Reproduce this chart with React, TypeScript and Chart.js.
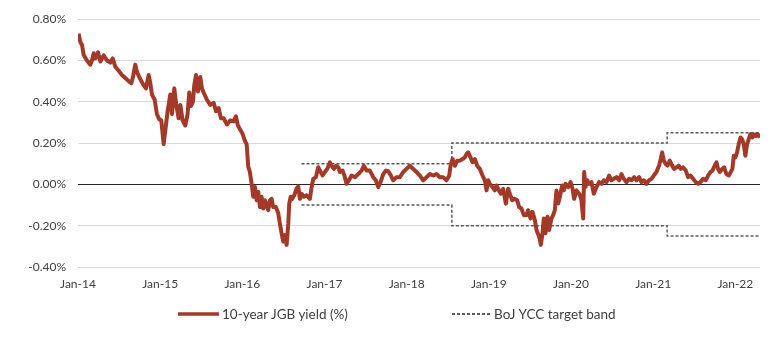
import React, { useEffect, useRef } from 'react';
import { Chart, registerables } from 'chart.js';

Chart.register(...registerables);

// ---- Data ----
const seriesNames = ['10-year JGB yield (%)', 'BoJ YCC target band'];

// decimal-year dates and 10-year JGB yield (%)
const jgbDates = [
  2014.008, 2014.028, 2014.049, 2014.069, 2014.109, 2014.150, 2014.170, 2014.191, 2014.211, 2014.243,
  2014.272, 2014.312, 2014.353, 2014.393, 2014.422, 2014.454, 2014.495, 2014.535, 2014.576, 2014.616,
  2014.649, 2014.669, 2014.697, 2014.722, 2014.758, 2014.799, 2014.827, 2014.860, 2014.880, 2014.900,
  2014.933, 2014.961, 2014.989, 2015.014, 2015.042, 2015.062, 2015.091, 2015.123, 2015.144, 2015.172,
  2015.196, 2015.225, 2015.245, 2015.273, 2015.306, 2015.334, 2015.354, 2015.375, 2015.399, 2015.415,
  2015.436, 2015.460, 2015.488, 2015.509, 2015.529, 2015.569, 2015.610, 2015.651, 2015.679, 2015.711,
  2015.740, 2015.772, 2015.813, 2015.853, 2015.894, 2015.922, 2015.946, 2015.975, 2016.003, 2016.032,
  2016.052, 2016.072, 2016.092, 2016.113, 2016.133, 2016.153, 2016.174, 2016.194, 2016.214, 2016.234,
  2016.255, 2016.275, 2016.295, 2016.315, 2016.336, 2016.356, 2016.376, 2016.409, 2016.437, 2016.457,
  2016.478, 2016.498, 2016.518, 2016.539, 2016.559, 2016.571, 2016.588, 2016.608, 2016.632, 2016.660,
  2016.680, 2016.701, 2016.721, 2016.749, 2016.782, 2016.822, 2016.843, 2016.863, 2016.895, 2016.924,
  2016.944, 2016.977, 2017.005, 2017.033, 2017.066, 2017.086, 2017.114, 2017.139, 2017.167, 2017.187,
  2017.220, 2017.248, 2017.268, 2017.297, 2017.329, 2017.370, 2017.410, 2017.451, 2017.479, 2017.512,
  2017.552, 2017.593, 2017.625, 2017.654, 2017.682, 2017.715, 2017.747, 2017.775, 2017.808, 2017.836,
  2017.877, 2017.917, 2017.958, 2017.998, 2018.039, 2018.080, 2018.120, 2018.161, 2018.201, 2018.242,
  2018.282, 2018.323, 2018.363, 2018.404, 2018.444, 2018.485, 2018.518, 2018.534, 2018.558, 2018.586,
  2018.615, 2018.647, 2018.680, 2018.708, 2018.728, 2018.749, 2018.777, 2018.801, 2018.830, 2018.858,
  2018.891, 2018.923, 2018.951, 2018.972, 2018.992, 2019.012, 2019.045, 2019.073, 2019.093, 2019.122,
  2019.146, 2019.174, 2019.207, 2019.235, 2019.255, 2019.284, 2019.316, 2019.345, 2019.369, 2019.397,
  2019.426, 2019.458, 2019.478, 2019.507, 2019.531, 2019.560, 2019.580, 2019.612, 2019.633, 2019.653,
  2019.669, 2019.689, 2019.714, 2019.734, 2019.762, 2019.783, 2019.803, 2019.823, 2019.844, 2019.864,
  2019.892, 2019.912, 2019.933, 2019.965, 2019.994, 2020.018, 2020.038, 2020.067, 2020.107, 2020.127,
  2020.148, 2020.160, 2020.176, 2020.196, 2020.221, 2020.249, 2020.277, 2020.310, 2020.342, 2020.371,
  2020.399, 2020.431, 2020.464, 2020.492, 2020.521, 2020.553, 2020.586, 2020.614, 2020.642, 2020.675,
  2020.707, 2020.736, 2020.768, 2020.796, 2020.829, 2020.857, 2020.886, 2020.918, 2020.951, 2020.979,
  2021.007, 2021.040, 2021.072, 2021.092, 2021.109, 2021.129, 2021.153, 2021.174, 2021.202, 2021.231,
  2021.255, 2021.283, 2021.311, 2021.336, 2021.364, 2021.397, 2021.425, 2021.454, 2021.486, 2021.518,
  2021.547, 2021.575, 2021.608, 2021.640, 2021.668, 2021.697, 2021.721, 2021.749, 2021.770, 2021.790,
  2021.810, 2021.839, 2021.863, 2021.891, 2021.920, 2021.944, 2021.964, 2021.981, 2022.001, 2022.021,
  2022.041, 2022.062, 2022.082, 2022.102, 2022.122, 2022.143, 2022.163, 2022.183, 2022.207, 2022.224,
  2022.248, 2022.273, 2022.297,
];

const jgbYield = [
  0.73, 0.69, 0.675, 0.627, 0.60, 0.58, 0.60, 0.635, 0.61, 0.64,
  0.595, 0.625, 0.60, 0.59, 0.61, 0.57, 0.55, 0.53, 0.515, 0.50,
  0.49, 0.52, 0.58, 0.54, 0.51, 0.48, 0.465, 0.53, 0.49, 0.435,
  0.41, 0.34, 0.315, 0.31, 0.195, 0.26, 0.355, 0.435, 0.34, 0.465,
  0.385, 0.32, 0.385, 0.31, 0.285, 0.34, 0.445, 0.38, 0.40, 0.48,
  0.53, 0.45, 0.52, 0.465, 0.445, 0.41, 0.385, 0.395, 0.355, 0.37,
  0.32, 0.32, 0.29, 0.31, 0.305, 0.33, 0.285, 0.265, 0.245, 0.21,
  0.195, 0.085, 0.06, 0.003, -0.06, -0.013, -0.077, -0.037, -0.11, -0.06,
  -0.117, -0.077, -0.10, -0.125, -0.077, -0.07, -0.11, -0.11, -0.14, -0.19,
  -0.237, -0.277, -0.245, -0.293, -0.19, -0.093, -0.06, -0.07, -0.053, -0.02,
  -0.01, -0.07, -0.045, -0.06, -0.053, -0.07, -0.013, 0.027, 0.035, 0.083,
  0.067, 0.043, 0.06, 0.075, 0.107, 0.09, 0.075, 0.09, 0.083, 0.06,
  0.067, 0.035, 0.003, 0.02, 0.043, 0.035, 0.05, 0.067, 0.09, 0.067,
  0.067, 0.035, 0.02, -0.013, 0.011, 0.05, 0.067, 0.064, 0.043, 0.02,
  0.035, 0.035, 0.06, 0.075, 0.09, 0.075, 0.06, 0.043, 0.02, 0.035,
  0.05, 0.043, 0.05, 0.035, 0.035, 0.02, 0.043, 0.09, 0.123, 0.09,
  0.115, 0.115, 0.123, 0.131, 0.147, 0.155, 0.131, 0.107, 0.123, 0.09,
  0.075, 0.043, 0.02, -0.029, 0.02, 0.003, -0.013, -0.029, -0.005, -0.029,
  -0.045, -0.021, -0.093, -0.021, -0.045, -0.077, -0.07, -0.077, -0.11, -0.117,
  -0.149, -0.149, -0.125, -0.165, -0.133, -0.173, -0.221, -0.253, -0.293, -0.237,
  -0.165, -0.237, -0.157, -0.221, -0.165, -0.149, -0.125, -0.029, -0.093, -0.061,
  -0.005, -0.029, 0.003, -0.013, 0.011, -0.021, -0.07, -0.029, -0.05, -0.077,
  -0.165, 0.06, -0.013, 0.02, 0.003, 0.011, -0.045, -0.013, 0.011, 0.003,
  0.02, 0.011, 0.043, 0.02, 0.027, 0.035, 0.02, 0.05, 0.027, 0.011,
  0.027, 0.02, 0.035, 0.02, 0.035, 0.011, 0.02, 0.003, 0.02, 0.027,
  0.043, 0.06, 0.091, 0.123, 0.155, 0.115, 0.099, 0.091, 0.115, 0.091,
  0.075, 0.083, 0.091, 0.075, 0.083, 0.067, 0.035, 0.043, 0.027, 0.011,
  0.003, 0.011, 0.027, 0.02, 0.043, 0.06, 0.067, 0.091, 0.107, 0.075,
  0.06, 0.075, 0.083, 0.05, 0.043, 0.06, 0.075, 0.139, 0.131, 0.155,
  0.195, 0.227, 0.219, 0.195, 0.139, 0.195, 0.219, 0.243, 0.227, 0.243,
  0.235, 0.243, 0.227,
];

// BoJ yield curve control target band (step changes)
const bandDates = [2016.72, 2018.55, 2018.55, 2021.17, 2021.17, 2022.29];
const bandUpper = [0.1, 0.1, 0.2, 0.2, 0.25, 0.25];
const bandLower = [-0.1, -0.1, -0.2, -0.2, -0.25, -0.25];

// axis ticks
const xTickValues = [2014, 2015, 2016, 2017, 2018, 2019, 2020, 2021, 2022];
const xTickLabels = ['Jan-14', 'Jan-15', 'Jan-16', 'Jan-17', 'Jan-18', 'Jan-19', 'Jan-20', 'Jan-21', 'Jan-22'];
const yTickValues = [-0.4, -0.2, 0, 0.2, 0.4, 0.6, 0.8];

const RED = '#A33A29';
const DASH_GREY = '#5a5a5a';
const TEXT = '#404040';
const FONT = 'Lato, "Noto Sans", sans-serif';

export default function App() {
  const canvasRef = useRef<HTMLCanvasElement | null>(null);

  useEffect(() => {
    document.body.style.margin = '0';
    const canvas = canvasRef.current;
    if (!canvas) return;

    const yieldData = jgbDates.map((d, i) => ({ x: d, y: jgbYield[i] }));
    const upperData = bandDates.map((d, i) => ({ x: d, y: bandUpper[i] }));
    const lowerData = bandDates.map((d, i) => ({ x: d, y: bandLower[i] }));

    const chart = new Chart(canvas, {
      type: 'line',
      data: {
        datasets: [
          {
            label: seriesNames[0],
            data: yieldData,
            borderColor: RED,
            backgroundColor: RED,
            borderWidth: 4,
            pointRadius: 0,
            tension: 0,
            borderJoinStyle: 'round',
          },
          {
            label: seriesNames[1],
            data: upperData,
            borderColor: DASH_GREY,
            borderWidth: 1.5,
            borderDash: [3, 2],
            pointRadius: 0,
            tension: 0,
          },
          {
            label: seriesNames[1] + ' (lower)',
            data: lowerData,
            borderColor: DASH_GREY,
            borderWidth: 1.5,
            borderDash: [3, 2],
            pointRadius: 0,
            tension: 0,
          },
        ],
      },
      options: {
        animation: false,
        responsive: false,
        devicePixelRatio: 1,
        layout: { padding: { top: 18, right: 20, left: 0, bottom: 57 } },
        plugins: {
          legend: { display: false },
          tooltip: { enabled: false },
        },
        scales: {
          x: {
            type: 'linear',
            min: 2014,
            max: 2022.3,
            afterBuildTicks: (scale: any) => {
              scale.ticks = xTickValues.map((v) => ({ value: v }));
            },
            afterFit: (scale: any) => {
              scale.height = 23;
            },
            ticks: {
              autoSkip: false,
              maxRotation: 0,
              padding: 10,
              color: TEXT,
              font: { family: FONT, size: 12 },
              callback: (v: any) => {
                const idx = xTickValues.indexOf(Number(v));
                return idx >= 0 ? xTickLabels[idx] : '';
              },
            },
            grid: { display: false, drawTicks: false },
            border: { display: false },
          },
          y: {
            min: -0.4,
            max: 0.8,
            afterBuildTicks: (scale: any) => {
              scale.ticks = yTickValues.map((v) => ({ value: v }));
            },
            afterFit: (scale: any) => {
              scale.width = 78;
            },
            ticks: {
              padding: 12,
              color: TEXT,
              font: { family: FONT, size: 12 },
              callback: (v: any) => Number(v).toFixed(2) + '%',
            },
            grid: {
              drawTicks: false,
              color: (ctx: any) =>
                ctx.tick && Math.abs(ctx.tick.value) < 1e-9 ? '#262626' : '#d9d9d9',
              lineWidth: 1,
            },
            border: { display: false },
          },
        },
      },
    } as any);

    return () => chart.destroy();
  }, []);

  const legendText: React.CSSProperties = {
    fontFamily: FONT,
    fontSize: 13.5,
    color: TEXT,
    lineHeight: '16px',
    whiteSpace: 'nowrap',
  };

  return (
    <div style={{ position: 'relative', width: 780, height: 347 }}>
      <canvas ref={canvasRef} width={780} height={347} style={{ display: 'block' }} />
      <div style={{ position: 'absolute', left: 178, top: 306, height: 16, display: 'flex', alignItems: 'center' }}>
        <svg width={41} height={6} style={{ display: 'block', marginRight: 3 }}>
          <line x1={0} y1={3} x2={41} y2={3} stroke={RED} strokeWidth={3.5} />
        </svg>
        <span style={legendText}>{seriesNames[0]}</span>
      </div>
      <div style={{ position: 'absolute', left: 452, top: 306, height: 16, display: 'flex', alignItems: 'center' }}>
        <svg width={39} height={6} style={{ display: 'block', marginRight: 3 }}>
          <line x1={0} y1={3} x2={39} y2={3} stroke={DASH_GREY} strokeWidth={2} strokeDasharray="3,2" />
        </svg>
        <span style={legendText}>{seriesNames[1]}</span>
      </div>
    </div>
  );
}
